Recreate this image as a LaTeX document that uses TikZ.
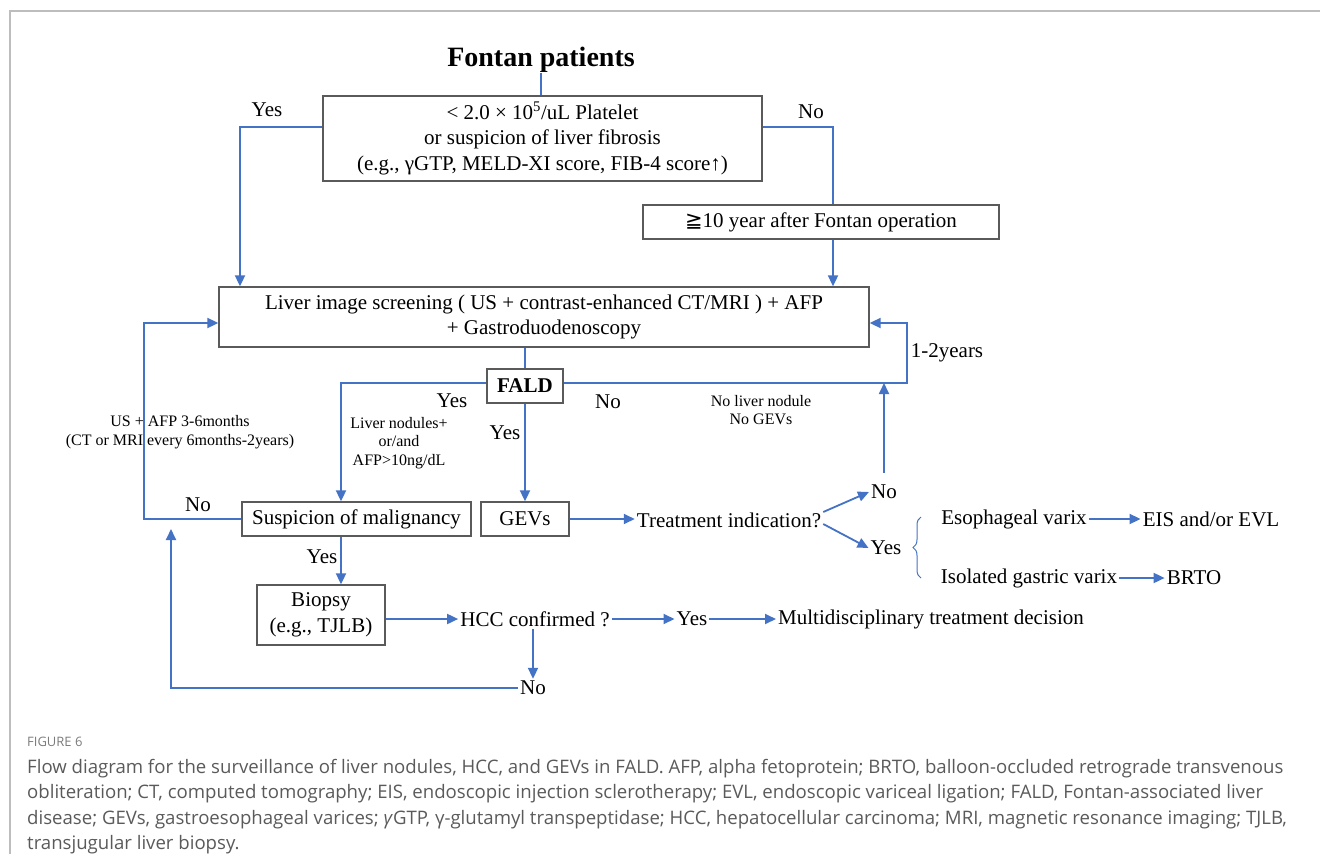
\documentclass[tikz,border=0pt]{standalone}
\usepackage{fontspec}
\setmainfont{Liberation Serif}
\newfontfamily\capfont{Open Sans}
\newfontfamily\symfont{DejaVu Sans}
\usetikzlibrary{arrows.meta,decorations.pathreplacing}
\definecolor{flowblue}{HTML}{4472C4}
\definecolor{boxgray}{HTML}{5A5A5A}
\definecolor{capgray}{HTML}{5A5A5A}
\definecolor{framegray}{HTML}{BDBDBD}
\newcommand{\mainsz}{\fontsize{21}{25.5}\selectfont}
\newcommand{\smallsz}{\fontsize{16}{18.5}\selectfont}

\begin{document}
\begin{tikzpicture}[x=1pt,y=-1pt,
    box/.style={draw=boxgray,line width=1.3pt,fill=white,align=center,font=\mainsz,inner sep=0pt},
    lbl/.style={font=\mainsz,inner sep=2pt},
    note/.style={font=\smallsz,align=center,inner sep=0pt},
    conn/.style={draw=flowblue,line width=1.8pt},
    arr/.style={conn,-{Triangle[length=11pt,width=10pt]}},
    brc/.style={draw=flowblue,line width=1pt,decorate,decoration={brace,amplitude=8pt}},
    capline/.style={anchor=base west,font=\capfont\fontsize{18.6}{22}\selectfont,text=capgray,inner sep=0pt}]

    \useasboundingbox (0,0) rectangle (1320,854);
    \draw[framegray,line width=2pt] (10,854) -- (10,11) -- (1320,11);

    \node[font=\bfseries\fontsize{28}{32}\selectfont,inner sep=0pt] (title) at (541,60) {Fontan patients};
    \node[box,minimum width=439pt,minimum height=85pt] (plt) at (542.5,138.5) {< 2.0 × 10\textsuperscript{5}/uL Platelet\\or suspicion of liver fibrosis\\(e.g., γGTP, MELD-XI score, FIB-4 score↑)};
    \node[box,minimum width=356pt,minimum height=34pt] (tenyr) at (821,222) {{\symfont ≧}10 year after Fontan operation};
    \node[box,minimum width=650pt,minimum height=60pt] (screen) at (544,317) {Liver image screening ( US + contrast-enhanced CT/MRI ) + AFP\\+ Gastroduodenoscopy};
    \node[box,font=\mainsz\bfseries,minimum width=76pt,minimum height=34pt] (fald) at (525,386) {FALD};
    \node[box,minimum width=229pt,minimum height=34pt] (susp) at (356.5,519) {Suspicion of malignancy};
    \node[box,minimum width=88pt,minimum height=34pt] (gevs) at (525,519) {GEVs};
    \node[box,minimum width=128pt,minimum height=60pt] (biop) at (321,615) {Biopsy\\(e.g., TJLB)};

    \node[lbl] (yes1) at (267,110) {Yes};
    \node[lbl] (no1) at (811,112) {No};
    \node[lbl] (yes2) at (452,401) {Yes};
    \node[lbl] (yes3) at (505,433) {Yes};
    \node[lbl] (no2) at (608,402) {No};
    \node[note] (nodtxt) at (399,443) {Liver nodules+\\or/and\\AFP>10ng/dL};
    \node[note] (nonetxt) at (761,410) {No liver nodule\\No GEVs};
    \node[note] (survtxt) at (180,432) {US + AFP 3-6months\\(CT or MRI every 6months-2years)};
    \node[lbl] (yrs) at (947,353) {1-2years};
    \node[lbl] (no3) at (198,505) {No};
    \node[lbl] (treat) at (729,520) {Treatment indication?};
    \node[lbl] (tno) at (884,492) {No};
    \node[lbl] (tyes) at (886,548) {Yes};
    \node[lbl] (eso) at (1014,519) {Esophageal varix};
    \node[lbl] (eis) at (1211,519) {EIS and/or EVL};
    \node[lbl] (iso) at (1029,578) {Isolated gastric varix};
    \node[lbl] (brto) at (1194,578) {BRTO};
    \node[lbl] (yes4) at (322,557) {Yes};
    \node[lbl] (hcc) at (535,619) {HCC confirmed ?};
    \node[lbl] (hyes) at (692,619) {Yes};
    \node[lbl] (multi) at (931,619) {Multidisciplinary treatment decision};
    \node[lbl] (hno) at (533,688) {No};

    \coordinate (yturn) at (240,127);
    \coordinate (nturn) at (833,127);
    \coordinate (fl) at (341,383);
    \coordinate (fr) at (907,383);
    \coordinate (fin) at (907,323);
    \coordinate (lin) at (144,323);
    \coordinate (bup) at (171,529);
    \coordinate (bt) at (921,517);
    \coordinate (bb) at (921,578);

    \draw[conn] (title) -- (title |- plt.north);
    \draw[arr] (plt.west |- yturn) -- (yturn) -- (yturn |- screen.north);
    \draw[conn] (plt.east |- nturn) -- (nturn) -- (nturn |- tenyr.north);
    \draw[arr] (nturn |- tenyr.south) -- (nturn |- screen.north);
    \draw[conn] (fald |- screen.south) -- (fald.north);
    \draw[arr] (fald.west |- fl) -- (fl) -- (fl |- susp.north);
    \draw[arr] (fald.south) -- (gevs.north);
    \draw[arr] (fald.east |- fr) -- (fr) -- (fin) -- (screen.east |- fin);
    \draw[arr] ([yshift=10pt]tno.north) -- (tno.north |- fr);
    \draw[arr] (susp.west) -- (susp.west -| lin) -- (lin) -- (screen.west |- lin);
    \draw[arr] (gevs.east) -- (gevs.east -| treat.west);
    \draw[arr] ([yshift=8pt]treat.east) -- (tno.west);
    \draw[arr] ([yshift=-4pt]treat.east) -- (tyes.west);
    \draw[brc] (bb) -- (bt);
    \draw[arr] (eso) -- (eis);
    \draw[arr] (iso) -- (brto);
    \draw[arr] (fl |- susp.south) -- (fl |- biop.north);
    \draw[arr] (biop.east |- hcc) -- (hcc.west);
    \draw[arr] (hcc) -- (hyes);
    \draw[arr] (hyes) -- (multi);
    \draw[arr] (hno |- hcc.south) -- (hno.north);
    \draw[arr] (hno.west) -- (hno.west -| bup) -- (bup);

    \node[anchor=base west,font=\capfont\fontsize{13}{15}\selectfont,text=capgray!80,inner sep=0pt] (fignum) at (27,746) {FIGURE 6};
    \node[capline] (cap1) at (27,773) {Flow diagram for the surveillance of liver nodules, HCC, and GEVs in FALD. AFP, alpha fetoprotein; BRTO, balloon-occluded retrograde transvenous};
    \node[capline] (cap2) at (27,798) {obliteration; CT, computed tomography; EIS, endoscopic injection sclerotherapy; EVL, endoscopic variceal ligation; FALD, Fontan-associated liver};
    \node[capline] (cap3) at (27,824) {disease; GEVs, gastroesophageal varices; \textit{γ}GTP, γ-glutamyl transpeptidase; HCC, hepatocellular carcinoma; MRI, magnetic resonance imaging; TJLB,};
    \node[capline] (cap4) at (27,849) {transjugular liver biopsy.};
\end{tikzpicture}
\end{document}
